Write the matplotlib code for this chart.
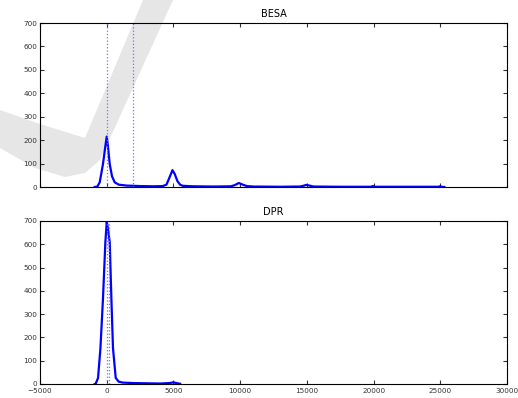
import matplotlib
matplotlib.use('Agg')
import matplotlib.pyplot as plt
from matplotlib.patches import Polygon
import numpy as np

fontsize = 5.2
plt.rcParams.update({
    'xtick.direction': 'in',
    'ytick.direction': 'in',
    'xtick.top': True,
    'ytick.right': True,
    'xtick.labelsize': fontsize,
    'ytick.labelsize': fontsize,
    'xtick.major.size': 3,
    'ytick.major.size': 3,
    'axes.titlesize': 7,
    'axes.linewidth': 0.8,
})

# BESA histogram
besa_x = [-900, -700, -525, -280, -100, 0, 80, 225, 400, 600, 900, 1500, 2500,
          3500, 4200, 4480, 4700, 4930, 5100, 5300, 5500, 5700, 6500, 8000,
          9300, 9600, 9900, 10200, 10500, 11000, 13000, 14500, 14800, 14950,
          15200, 15500, 17500, 19800, 19950, 20100, 22500, 24850, 24980,
          25100, 25300]
besa_y = [0, 2, 20, 98, 175, 215, 180, 98, 45, 20, 10, 6, 4,
          3, 4, 10, 40, 72, 55, 25, 10, 5, 3, 2,
          3, 8, 17, 10, 4, 2, 1, 2, 6, 9,
          6, 2, 1, 1, 4, 1, 1, 1, 3,
          1, 0]
besa_marks = [0, 2000]

# DPR histogram
dpr_x = [-900, -825, -650, -470, -280, -100, 0, 60, 225, 350, 470, 675, 900,
         1200, 2000, 3000, 4000, 4700, 5000, 5300, 5500]
dpr_y = [0, 1, 26, 154, 367, 610, 695, 680, 610, 367, 154, 26, 10,
         6, 4, 3, 2, 4, 7, 3, 1]
dpr_marks = [0, 150]

W, H = 518, 398
fig = plt.figure(figsize=(W / 100, H / 100), dpi=100)

# faint grey swoosh in the background
swoosh_px = [(0, 110), (40, 124), (85, 138), (143, 0), (173, 0), (100, 160),
             (85, 173), (65, 177), (35, 168), (0, 148)]
fig.add_artist(Polygon([(x / W, 1 - y / H) for x, y in swoosh_px],
                       closed=True, transform=fig.transFigure,
                       facecolor='#e6e6e6', edgecolor='none', zorder=-1))

ax_top = fig.add_axes([40 / W, 1 - 187 / H, 467 / W, 164 / H])
ax_bot = fig.add_axes([40 / W, 1 - 384 / H, 467 / W, 163 / H])

panels = [(ax_top, 'BESA', besa_x, besa_y, besa_marks),
          (ax_bot, 'DPR', dpr_x, dpr_y, dpr_marks)]
for ax, title, xs, ys, marks in panels:
    ax.set_facecolor('none')
    ax.plot(xs, ys, color='#0000ff', lw=1.6, solid_joinstyle='round')
    for m in marks:
        ax.axvline(m, color='#7070ff', ls=':', lw=0.9)
    ax.set_xlim(-5000, 30000)
    ax.set_ylim(0, 700)
    ax.set_xticks(np.arange(-5000, 30001, 5000))
    ax.set_yticks(np.arange(0, 701, 100))
    ax.set_title(title, pad=4)
    ax.tick_params(colors='#333333', pad=2)
    ax.tick_params(axis='x', pad=3.1)

ax_top.set_xticklabels([])

fig.savefig('out.png', dpi=100)
